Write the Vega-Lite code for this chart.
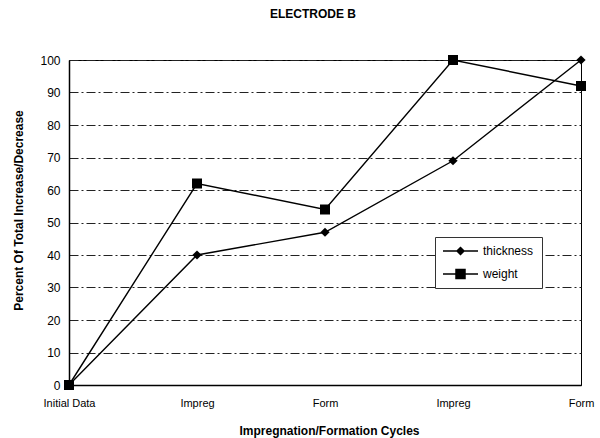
{
  "$schema": "https://vega.github.io/schema/vega-lite/v6.json",
  "autosize": "none",
  "width": 512,
  "height": 325,
  "padding": {"left": 69, "top": 60, "right": 19, "bottom": 53},
  "background": "white",
  "title": {"text": "ELECTRODE B", "font": "Liberation Sans", "fontSize": 12, "fontWeight": "bold", "color": "black", "anchor": "middle", "offset": 33, "dx": -12},
  "config": {
    "view": {"stroke": "black", "strokeWidth": 1},
    "font": "Liberation Sans"
  },
  "data": {"values": [
    {"step": 0, "cycle": "Initial Data", "series": "thickness", "value": 0},
    {"step": 1, "cycle": "Impreg", "series": "thickness", "value": 40},
    {"step": 2, "cycle": "Form", "series": "thickness", "value": 47},
    {"step": 3, "cycle": "Impreg", "series": "thickness", "value": 69},
    {"step": 4, "cycle": "Form", "series": "thickness", "value": 100},
    {"step": 0, "cycle": "Initial Data", "series": "weight", "value": 0},
    {"step": 1, "cycle": "Impreg", "series": "weight", "value": 62},
    {"step": 2, "cycle": "Form", "series": "weight", "value": 54},
    {"step": 3, "cycle": "Impreg", "series": "weight", "value": 100},
    {"step": 4, "cycle": "Form", "series": "weight", "value": 92}
  ]},
  "encoding": {
    "x": {"field": "step", "type": "quantitative",
      "scale": {"domain": [0, 4], "nice": false, "zero": false},
      "axis": {"values": [0, 1, 2, 3, 4], "grid": false, "ticks": false,
        "labelExpr": "['Initial Data','Impreg','Form','Impreg','Form'][datum.value]",
        "labelFont": "Liberation Sans", "labelFontSize": 11, "labelColor": "black", "labelPadding": 12, "labelFlush": false,
        "domainColor": "black", "domainWidth": 1.5,
        "title": "Impregnation/Formation Cycles", "titleFont": "Liberation Sans", "titleFontSize": 12, "titleFontWeight": "bold", "titleColor": "black",
        "titleX": 260, "titleY": 45, "titleBaseline": "middle", "titleAnchor": "middle"}},
    "y": {"field": "value", "type": "quantitative",
      "scale": {"domain": [0, 100], "nice": false},
      "axis": {"values": [0, 10, 20, 30, 40, 50, 60, 70, 80, 90, 100], "ticks": false,
        "grid": true, "gridColor": "#222", "gridDash": [9, 3, 2, 3], "gridWidth": 1,
        "labelFont": "Liberation Sans", "labelFontSize": 12, "labelColor": "black", "labelPadding": 9,
        "domainColor": "black", "domainWidth": 1.5,
        "title": "Percent Of Total Increase/Decrease", "titleFont": "Liberation Sans", "titleFontSize": 12, "titleFontWeight": "bold", "titleColor": "black",
        "titleX": -51, "titleY": 150, "titleAngle": -90, "titleBaseline": "middle", "titleAlign": "center"}}
  },
  "layer": [
    {"mark": {"type": "line", "color": "black", "strokeWidth": 1.4},
     "encoding": {"detail": {"field": "series"}}},
    {"mark": {"type": "point", "filled": true, "color": "black", "opacity": 1},
     "encoding": {
       "shape": {"field": "series", "type": "nominal", "scale": {"domain": ["thickness", "weight"], "range": ["diamond", "square"]}, "legend": null},
       "size": {"field": "series", "type": "nominal", "scale": {"domain": ["thickness", "weight"], "range": [85, 100]}, "legend": null}
     }},
    {"mark": {"type": "point", "filled": true, "color": "black", "opacity": 0},
     "encoding": {
       "shape": {"field": "series", "type": "nominal",
         "scale": {"domain": ["thickness", "weight"], "range": ["M-1,-0.04H1V0.04H-1ZM-0.26,0L0,-0.26L0.26,0L0,0.26Z", "M-1,-0.04H1V0.04H-1ZM-0.3,-0.3H0.3V0.3H-0.3Z"]},
         "legend": {"title": null, "orient": "none", "legendX": 366, "legendY": 177,
           "symbolSize": 1225, "symbolOpacity": 1, "symbolFillColor": "black", "symbolStrokeColor": "black", "symbolStrokeWidth": 0,
           "labelFont": "Liberation Sans", "labelFontSize": 12, "labelColor": "black", "labelOffset": 5,
           "clipHeight": 12, "rowPadding": 11, "padding": 8, "strokeColor": "#333", "fillColor": "white"}}
     }}
  ],
  "resolve": {"scale": {"shape": "independent"}, "legend": {"shape": "independent"}}
}
